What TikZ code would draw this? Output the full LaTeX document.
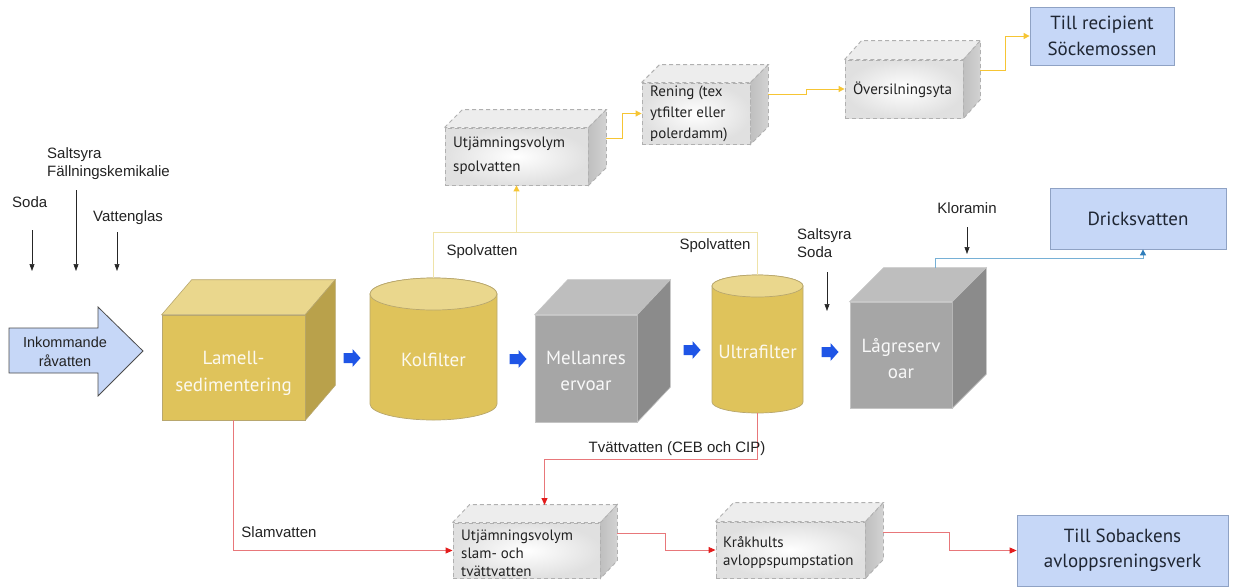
\documentclass[tikz,border=0pt]{standalone}
\usepackage{fontspec}
\setmainfont{Liberation Sans}
\newfontfamily\boxfont{PT Sans}
\usetikzlibrary{arrows.meta,calc}
\definecolor{goldF}{HTML}{DFC35B}
\definecolor{goldT}{HTML}{EAD78D}
\definecolor{goldS}{HTML}{B9A14B}
\definecolor{goldL}{HTML}{B8A76E}
\definecolor{grayF}{HTML}{A6A6A6}
\definecolor{grayT}{HTML}{BEBEBE}
\definecolor{grayS}{HTML}{8B8B8B}
\definecolor{grayL}{HTML}{C4C4C4}
\definecolor{arrB}{HTML}{1F55E6}
\definecolor{boxB}{HTML}{C6D7F7}
\definecolor{boxL}{HTML}{8FA2C4}
\definecolor{txt}{HTML}{222222}
\definecolor{navy}{HTML}{1F2633}
\definecolor{spolC}{HTML}{EFE3A8}
\definecolor{yelC}{HTML}{F6C534}
\definecolor{redC}{HTML}{E8777A}
\definecolor{redA}{HTML}{E31C1C}
\definecolor{bluC}{HTML}{76B0D6}
\definecolor{bluA}{HTML}{2F7DBA}
\newcommand\solidcube[6]{%
  \filldraw[fill=#4,draw=#6,line width=0.6pt] (#1.north west) -- ++(#2,-#3) -- ($(#1.north east)+(#2,-#3)$) -- (#1.north east) -- cycle;
  \filldraw[fill=#5,draw=#6,line width=0.6pt] (#1.north east) -- ++(#2,-#3) -- ($(#1.south east)+(#2,-#3)$) -- (#1.south east) -- cycle;
}
\newcommand\dashcube[3]{%
  \filldraw[fill=gray!14,dface] (#1.north west) -- ++(#2,-#3) -- ($(#1.north east)+(#2,-#3)$) -- (#1.north east) -- cycle;
  \shadedraw[left color=gray!50,right color=gray!35,dface] (#1.north east) -- ++(#2,-#3) -- ($(#1.south east)+(#2,-#3)$) -- (#1.south east) -- cycle;
}
\newcommand\cylbody[5]{% cx, ytop, ybot, rx, ry
  \filldraw[fill=goldF,draw=goldL,line width=0.7pt] (#1-#4,#2) -- (#1-#4,#3) arc[start angle=180,end angle=360,x radius=#4pt,y radius=#5pt] -- (#1+#4,#2) arc[start angle=0,end angle=180,x radius=#4pt,y radius=#5pt] -- cycle;
  \filldraw[fill=goldT,draw=goldL,line width=0.7pt] (#1,#2) ellipse[x radius=#4pt,y radius=#5pt];
}
\newcommand\blockarrow[1]{%
  \fill[arrB] ($(#1)+(-8.5,-5)$) -- ++(9,0) -- ++(0,-4) -- ++(8,9) -- ++(-8,9) -- ++(0,-4) -- ++(-9,0) -- cycle;
}
\begin{document}
\begin{tikzpicture}[x=1pt,y=-1pt,
  lbl/.style={font=\fontsize{15}{18}\selectfont, text=txt, inner sep=0pt, align=left},
  chem/.style={-{Triangle[length=7pt,width=5pt]}, line width=0.6pt, draw=black!85, fill=black!85},
  goldfront/.style={rectangle, fill=goldF, draw=goldL, line width=0.6pt, inner sep=0pt},
  grayfront/.style={rectangle, fill=grayF, draw=grayL, line width=0.6pt, inner sep=0pt},
  goldtext/.style={inner sep=0pt, text=white!90!goldF, font=\boxfont\fontsize{19}{27}\selectfont, align=center},
  graytext/.style={inner sep=0pt, text=white!92!grayF, font=\boxfont\fontsize{19}{26}\selectfont, align=center},
  dface/.style={draw=gray!62, dash pattern=on 4pt off 3pt, line width=0.9pt},
  dbox/.style={rectangle, inner color=white, outer color=gray!24, dface},
  dtext/.style={inner sep=0pt, font=\boxfont\fontsize{15}{18}\selectfont, text=txt, align=left},
  bluebox/.style={rectangle, fill=boxB, draw=boxL, line width=0.8pt, inner sep=0pt, font=\boxfont\fontsize{19}{25}\selectfont, text=navy, align=center},
  spol/.style={draw=spolC, line width=1pt},
  yconn/.style={draw=yelC, line width=1pt, -{Triangle[length=6pt,width=6pt]}},
  redc/.style={draw=redC, line width=0.9pt, -{Triangle[length=7pt,width=6pt,color=redA]}},
  bconn/.style={draw=bluC, line width=1pt, -{Triangle[length=6pt,width=6pt,color=bluA]}}
]
\useasboundingbox (0,0) rectangle (1233,587);

% chemical labels left
\node[lbl, anchor=west] (soda) at (12,202) {Soda};
\node[lbl, anchor=west] (salt) at (47,164) {Saltsyra\\Fällningskemikalie};
\node[lbl, anchor=west] (vglas) at (93,218) {Vattenglas};
\coordinate (c1a) at (32,230); \coordinate (c1b) at (32,271);
\coordinate (c2a) at (76,190); \coordinate (c2b) at (76,271);
\coordinate (c3a) at (117,232); \coordinate (c3b) at (117,271);
\draw[chem] (c1a) -- (c1b);
\draw[chem] (c2a) -- (c2b);
\draw[chem] (c3a) -- (c3b);

% incoming arrow
\filldraw[fill=boxB, draw=black!70, line width=0.8pt] (9,328) -- (98,328) -- (98,307) -- (143,351) -- (98,396) -- (98,373) -- (9,373) -- cycle;
\node[lbl, align=center, font=\fontsize{14.5}{19}\selectfont] (in) at (65,352) {Inkommande\\råvatten};

% Lamell cube
\node[goldfront, minimum width=143, minimum height=105] (lam) at (233.5,367.5) {};
\solidcube{lam}{30}{35}{goldT}{goldS}{goldL}
\node[goldtext] (lamt) at (233.5,373) {Lamell-\\sedimentering};

% Kolfilter cylinder
\cylbody{433.5}{294}{404}{63.5}{16}
\node[goldtext] (kol) at (433.5,360) {Kolfilter};
\coordinate (koltop) at (433.5,278);

% Mellanreservoar cube
\node[grayfront, minimum width=102, minimum height=107] (mel) at (586,368.5) {};
\solidcube{mel}{33}{35}{grayT}{grayS}{grayL}
\node[graytext] (melt) at (586,371) {Mellanres\\ervoar};

% Ultrafilter cylinder
\cylbody{757.5}{286}{402}{45.5}{11}
\node[goldtext] (uf) at (757.5,352) {Ultrafilter};
\coordinate (uftop) at (757.5,275);
\coordinate (ufbot) at (757.5,413);

% Lågreservoar cube
\node[grayfront, minimum width=102, minimum height=106] (lag) at (901,355) {};
\solidcube{lag}{34}{34}{grayT}{grayS}{grayL}
\node[graytext] (lagt) at (901,359) {Lågreserv\\oar};
\coordinate (lagtop) at (935,268);

% blue block arrows
\coordinate (b1) at (352,358);
\coordinate (b2) at (518,359);
\coordinate (b3) at (692,350);
\coordinate (b4) at (830,352);
\blockarrow{b1}\blockarrow{b2}\blockarrow{b3}\blockarrow{b4}

% chemical labels right
\node[lbl, anchor=west] (salt2) at (797,243.5) {Saltsyra\\Soda};
\coordinate (c4a) at (827,272); \coordinate (c4b) at (827,311);
\draw[chem] (c4a) -- (c4b);
\node[lbl] (klor) at (967,208) {Kloramin};
\coordinate (c5a) at (967,227); \coordinate (c5b) at (967,254);
\draw[chem] (c5a) -- (c5b);

% top dashed boxes
\node[dbox, minimum width=143, minimum height=57] (us) at (516.5,156.5) {};
\dashcube{us}{18}{18}
\node[dtext, anchor=west, font=\boxfont\fontsize{15}{24}\selectfont] (ust) at (453,156) {Utjämningsvolym\\spolvatten};
\node[dbox, minimum width=108, minimum height=61] (ren) at (696,113.5) {};
\dashcube{ren}{18}{18}
\node[dtext, anchor=west, font=\boxfont\fontsize{15}{21}\selectfont] (rent) at (650,114) {Rening (tex\\ytfilter eller\\polerdamm)};
\node[dbox, minimum width=118, minimum height=58] (ov) at (904,89) {};
\dashcube{ov}{17}{19}
\node[dtext, anchor=west] (ovt) at (853,90) {Översilningsyta};

% bottom dashed boxes
\node[dbox, minimum width=147, minimum height=55] (usl) at (526.5,550.5) {};
\dashcube{usl}{17}{18}
\node[dtext, anchor=west] (uslt) at (461,553) {Utjämningsvolym\\slam- och\\tvättvatten};
\node[dbox, minimum width=149, minimum height=56] (kr) at (790.5,550) {};
\dashcube{kr}{18}{19}
\node[dtext, anchor=west] (krt) at (723,552) {Kråkhults\\avloppspumpstation};
\coordinate (usltop) at (544.5,505);

% blue target boxes
\node[bluebox, minimum width=144, minimum height=58, font=\boxfont\fontsize{19}{26}\selectfont] (tr) at (1102,36) {Till recipient\\Söckemossen};
\node[bluebox, minimum width=176, minimum height=61] (drick) at (1138,218.5) {Dricksvatten};
\node[bluebox, minimum width=211, minimum height=71] (sob) at (1122.5,550.5) {Till Sobackens\\avloppsreningsverk};

% spolvatten lines
\draw[spol] (koltop) -- ++(0,-46) -| (uftop);
\coordinate (spj) at (516.5,232);
\draw[yconn, draw=spolC, -{Triangle[length=6pt,width=6pt,color=yelC]}] (spj) -- (us.south);
\node[lbl] (sp1) at (482,252) {Spolvatten};
\node[lbl] (sp2) at (715,246) {Spolvatten};

% top yellow connectors
\draw[yconn] ([xshift=18pt,yshift=18pt]us.east) -- ++(16,0) |- (ren.west);
\draw[yconn] ([xshift=18pt,yshift=19.5pt]ren.east) -- ++(38,0) |- (ov.west);
\draw[yconn] ([xshift=17pt,yshift=19pt]ov.east) -- ++(25,0) |- (tr.west);

% red connectors
\draw[redc] (lam.south) |- (usl.west);
\node[lbl] (slam) at (279,532) {Slamvatten};
\draw[redc] (ufbot) -- ++(0,46) -| (usltop);
\node[lbl] (tv) at (677,449) {Tvättvatten (CEB och CIP)};
\draw[redc] ([xshift=17pt,yshift=17pt]usl.east) -- ++(48,0) |- (kr.west);
\draw[redc] ([xshift=18pt,yshift=18pt]kr.east) -- ++(66,0) |- (sob.west);

% to Dricksvatten
\draw[bconn] (lagtop) -- ++(0,-10) -| ([xshift=5pt]drick.south);
\end{tikzpicture}
\end{document}
